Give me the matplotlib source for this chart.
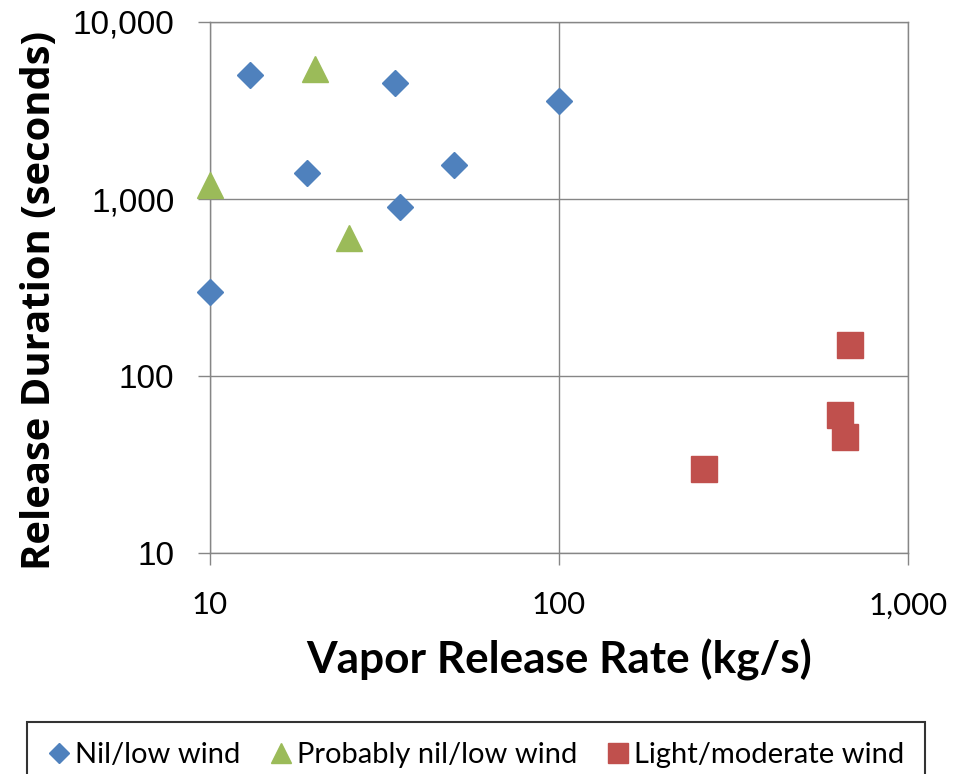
import matplotlib
matplotlib.use('Agg')
import matplotlib.pyplot as plt
from matplotlib.ticker import FixedLocator, FuncFormatter, NullLocator

# Nil/low wind
nil_rate = [13, 34, 100, 19, 50, 35, 10]
nil_dur = [5000, 4500, 3600, 1400, 1560, 900, 300]

# Probably nil/low wind
prob_rate = [20, 10, 25]
prob_dur = [5400, 1200, 600]

# Light/moderate wind
light_rate = [680, 640, 660, 260]
light_dur = [150, 60, 45, 30]

x_ticks = [10, 100, 1000]
y_ticks = [10, 100, 1000, 10000]

grid_col = '#868686'

fig = plt.figure(figsize=(9.67, 7.74), dpi=100)
ax = fig.add_axes([210 / 967, 1 - 553 / 774, 698 / 967, 531 / 774])

ax.set_xscale('log')
ax.set_yscale('log')
ax.set_xlim(10, 1000)
ax.set_ylim(10, 10000)

ax.plot(nil_rate, nil_dur, linestyle='none', marker='D', ms=13.3,
        color='#4F81BD', label='Nil/low wind', clip_on=False, zorder=3)
ax.plot(prob_rate, prob_dur, linestyle='none', marker='^', ms=18.5,
        color='#9BBB59', label='Probably nil/low wind', clip_on=False, zorder=3)
ax.plot(light_rate, light_dur, linestyle='none', marker='s', ms=18.5,
        color='#C0504D', label='Light/moderate wind', clip_on=False, zorder=3)

ax.xaxis.set_major_locator(FixedLocator(x_ticks))
ax.yaxis.set_major_locator(FixedLocator(y_ticks))
ax.xaxis.set_minor_locator(NullLocator())
ax.yaxis.set_minor_locator(NullLocator())
fmt = FuncFormatter(lambda v, p: f'{v:,.0f}')
ax.xaxis.set_major_formatter(fmt)
ax.yaxis.set_major_formatter(fmt)

ax.grid(True, color=grid_col, linewidth=1.0)
ax.set_axisbelow(True)
for s in ax.spines.values():
    s.set_color(grid_col)
    s.set_linewidth(1.0)

ax.tick_params(axis='both', direction='out', length=8.6, width=1.0, color=grid_col)
ax.tick_params(axis='y', pad=17)
ax.tick_params(axis='x', pad=19)
for lab in ax.get_yticklabels():
    lab.set_fontfamily('Liberation Sans')
    lab.set_fontsize(24)
for lab in ax.get_xticklabels():
    lab.set_fontfamily('Lato')
    lab.set_fontsize(22.5)

ax.set_xlabel('Vapor Release Rate (kg/s)', fontfamily='Lato', fontweight='bold',
              fontsize=31.8, va='center')
ax.xaxis.set_label_coords(0.5, -0.2015)
ax.set_ylabel('Release Duration (seconds)', fontfamily='Open Sans', fontweight='bold',
              fontsize=28.8, va='center')
ax.yaxis.set_label_coords(-0.2436, 0.476)

leg = fig.legend(loc='upper center', bbox_to_anchor=(476 / 967, 1 - 722 / 774),
                 ncol=3, frameon=True, fancybox=False, borderpad=0.7,
                 borderaxespad=0, handletextpad=0.15, columnspacing=1.0,
                 handlelength=0.8, prop={'family': 'Lato', 'size': 21})
leg.get_frame().set_edgecolor('black')
leg.get_frame().set_linewidth(1.5)
for h, ms in zip(leg.legend_handles, [10.2, 14.4, 14.4]):
    h.set_markersize(ms)

fig.savefig('out.png', dpi=100)
